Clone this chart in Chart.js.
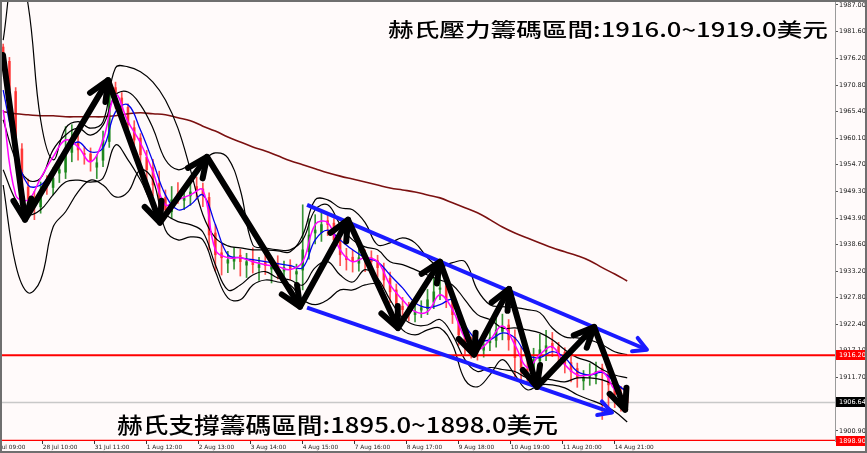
<!DOCTYPE html>
<html>
<head>
<meta charset="utf-8">
<script src="https://cdn.jsdelivr.net/npm/chart.js@4.4.1/dist/chart.umd.min.js"></script>
<style>
  html, body { margin: 0; padding: 0; background: #fff; overflow: hidden; }
</style>
</head>
<body>
<canvas id="chart" width="867" height="453"></canvas>
<script>
// x is measured in hourly bars from 27 Jul 09:00
const xMin = 5.43;
const xMax = 405.9;
const yMin = 1898.85;
const yMax = 1987.6;

const tickBars = [0, 25, 50, 75, 100, 125, 150, 175, 200, 225, 250, 275, 300];
const tickLabels = ["27 Jul 09:00", "28 Jul 10:00", "31 Jul 11:00", "1 Aug 12:00", "2 Aug 13:00",
  "3 Aug 14:00", "4 Aug 15:00", "7 Aug 16:00", "8 Aug 17:00", "9 Aug 18:00",
  "10 Aug 19:00", "11 Aug 20:00", "14 Aug 21:00"];
const priceTicks = [1987.00, 1981.60, 1976.20, 1970.80, 1965.40, 1960.10, 1954.70, 1949.30,
  1943.90, 1938.60, 1933.20, 1927.80, 1922.40, 1917.10, 1911.70, 1906.30, 1900.90];

const candleBars = [6, 9, 12, 15, 18, 21, 24, 27, 30, 33, 36, 39, 42, 45, 48, 51, 54, 57, 60, 63,
  66, 69, 72, 75, 78, 81, 84, 87, 90, 93, 96, 99, 102, 105, 108, 111, 114, 117, 120, 123,
  126, 129, 132, 135, 138, 141, 144, 147, 150, 153, 156, 159, 162, 165, 168, 171, 174, 177, 180, 183,
  186, 189, 192, 195, 198, 201, 204, 207, 210, 213, 216, 219, 222, 225, 228, 231, 234, 237, 240, 243,
  246, 249, 252, 255, 258, 261, 264, 267, 270, 273, 276, 279, 282, 285, 288, 291, 294, 297, 300, 303, 306];
const opens = [1978.5, 1975.6, 1969.5, 1957.9, 1950.2, 1947.9, 1946.2, 1950.8, 1950.1, 1953.0,
  1953.2, 1957.2, 1959.3, 1957.0, 1956.9, 1954.2, 1955.6, 1959.4, 1970.3, 1968.2,
  1966.3, 1962.2, 1960.1, 1956.2, 1954.1, 1950.9, 1948.1, 1945.2, 1948.9, 1947.5,
  1948.4, 1950.3, 1949.8, 1948.1, 1940.9, 1936.9, 1934.8, 1935.2, 1936.4, 1934.4,
  1935.6, 1933.9, 1935.1, 1933.6, 1934.8, 1933.2, 1934.4, 1932.6, 1933.4, 1937.1,
  1940.9, 1941.0, 1943.4, 1942.9, 1939.8, 1936.1, 1936.0, 1934.8, 1936.3, 1935.9,
  1935.3, 1933.6, 1931.7, 1929.4, 1926.1, 1926.0, 1924.4, 1925.3, 1925.6, 1926.9,
  1929.5, 1930.2, 1927.8, 1924.9, 1920.8, 1918.7, 1917.6, 1917.2, 1918.7, 1919.2,
  1921.0, 1922.3, 1919.8, 1916.2, 1913.4, 1913.2, 1915.0, 1917.0, 1918.6, 1917.9,
  1916.8, 1914.7, 1913.5, 1911.0, 1911.9, 1912.0, 1913.6, 1912.6, 1910.6, 1908.5, 1907.9];
const highs = [1979.1, 1976.4, 1970.3, 1959.0, 1951.8, 1949.3, 1951.2, 1952.5, 1954.1, 1956.3,
  1962.4, 1962.8, 1960.6, 1958.4, 1958.1, 1956.7, 1961.5, 1972.2, 1971.4, 1969.3,
  1967.0, 1963.6, 1961.0, 1957.6, 1955.8, 1953.4, 1949.6, 1950.3, 1951.1, 1950.4,
  1951.3, 1952.2, 1951.0, 1949.0, 1942.6, 1938.8, 1937.2, 1938.0, 1937.6, 1936.8,
  1937.9, 1936.0, 1936.9, 1935.4, 1936.3, 1935.2, 1935.5, 1934.6, 1946.6, 1943.8,
  1944.6, 1945.1, 1944.9, 1943.8, 1940.9, 1937.8, 1937.4, 1938.4, 1937.5, 1937.3,
  1936.4, 1934.8, 1933.0, 1930.6, 1927.9, 1926.9, 1926.6, 1927.2, 1929.5, 1931.8,
  1932.4, 1931.2, 1928.6, 1926.0, 1922.4, 1919.9, 1919.1, 1919.8, 1921.6, 1923.8,
  1924.5, 1923.4, 1921.3, 1917.9, 1915.2, 1917.6, 1920.4, 1921.2, 1920.8, 1918.8,
  1917.7, 1915.9, 1914.6, 1913.1, 1914.5, 1914.8, 1914.4, 1913.3, 1911.8, 1909.9, 1908.6];
const lows = [1973.8, 1966.9, 1955.1, 1948.2, 1945.3, 1943.6, 1944.9, 1948.7, 1948.6, 1951.1,
  1951.9, 1955.3, 1955.6, 1954.8, 1953.4, 1951.9, 1954.3, 1958.2, 1966.1, 1964.2,
  1960.5, 1957.8, 1954.9, 1951.2, 1948.4, 1946.0, 1944.1, 1943.8, 1946.9, 1945.6,
  1946.5, 1947.7, 1946.2, 1937.5, 1933.2, 1932.4, 1932.9, 1933.6, 1932.2, 1931.9,
  1932.8, 1931.3, 1932.5, 1930.8, 1931.6, 1931.7, 1931.4, 1929.9, 1929.4, 1935.6,
  1938.7, 1939.2, 1940.4, 1937.6, 1934.3, 1933.4, 1933.0, 1933.2, 1933.1, 1932.7,
  1931.9, 1929.7, 1926.8, 1924.5, 1923.6, 1923.1, 1922.9, 1923.8, 1924.4, 1925.6,
  1927.4, 1925.8, 1922.6, 1918.2, 1916.4, 1915.6, 1915.2, 1915.8, 1917.1, 1917.8,
  1919.3, 1917.2, 1911.8, 1911.2, 1910.6, 1911.4, 1913.6, 1915.1, 1915.9, 1914.2,
  1912.6, 1910.8, 1909.7, 1909.2, 1910.1, 1910.4, 1903.2, 1904.5, 1905.6, 1904.9, 1905.1];
const closes = [1975.9, 1969.8, 1957.7, 1950.6, 1947.6, 1946.6, 1949.6, 1950.6, 1952.0, 1953.7,
  1956.7, 1958.7, 1957.7, 1956.7, 1955.3, 1955.1, 1959.7, 1969.8, 1968.8, 1965.8,
  1962.8, 1959.7, 1956.7, 1953.7, 1950.6, 1947.6, 1945.6, 1947.6, 1948.6, 1948.0,
  1949.2, 1949.6, 1948.6, 1940.5, 1936.5, 1935.9, 1935.5, 1935.9, 1935.1, 1935.1,
  1934.5, 1934.5, 1934.3, 1934.3, 1933.9, 1933.9, 1933.5, 1933.1, 1937.5, 1940.5,
  1941.5, 1942.6, 1942.6, 1939.5, 1936.5, 1935.5, 1935.1, 1935.9, 1935.5, 1935.1,
  1933.9, 1931.4, 1929.0, 1926.4, 1925.4, 1925.0, 1925.0, 1925.8, 1927.4, 1929.0,
  1929.8, 1927.4, 1924.4, 1920.3, 1918.3, 1917.3, 1916.9, 1918.3, 1919.7, 1921.3,
  1921.8, 1919.3, 1915.7, 1913.7, 1912.9, 1915.3, 1917.3, 1918.1, 1917.7, 1916.3,
  1914.3, 1912.9, 1911.6, 1911.6, 1912.2, 1912.9, 1912.9, 1910.2, 1908.2, 1907.2, 1906.6];

// indicator lines, read every 6 bars
const indBars = [6, 12, 18, 24, 30, 36, 42, 48, 54, 60, 66, 72, 78, 84, 90, 96, 102, 108, 114, 120,
  126, 132, 138, 144, 150, 156, 162, 168, 174, 180, 186, 192, 198, 204, 210, 216, 222, 228, 234, 240,
  246, 252, 258, 264, 270, 276, 282, 288, 294, 300, 306];
const maFast = [1965.8, 1948.6, 1947.6, 1952.0, 1956.3, 1959.7, 1958.3, 1955.3, 1959.7, 1968.8,
  1963.4, 1959.1, 1953.3, 1946.6, 1947.6, 1948.6, 1949.6, 1937.5, 1935.9, 1935.9,
  1935.1, 1934.5, 1934.1, 1933.5, 1935.1, 1942.6, 1943.0, 1937.5, 1935.1, 1935.9,
  1935.1, 1930.4, 1927.4, 1925.0, 1925.0, 1928.4, 1925.4, 1919.7, 1917.3, 1919.3,
  1922.1, 1918.3, 1913.7, 1916.3, 1917.9, 1914.3, 1912.2, 1912.2, 1912.9, 1909.2, 1906.8];
const maSlow = [1969.8, 1957.7, 1950.6, 1950.6, 1953.7, 1957.3, 1959.3, 1957.3, 1958.1, 1965.4,
  1966.8, 1961.7, 1955.3, 1948.6, 1945.6, 1946.6, 1948.6, 1942.6, 1936.5, 1935.9,
  1935.5, 1935.1, 1934.7, 1934.3, 1933.9, 1939.5, 1941.5, 1939.5, 1937.5, 1935.9,
  1935.1, 1932.4, 1929.8, 1926.8, 1925.8, 1926.4, 1927.4, 1922.3, 1919.3, 1919.3,
  1920.7, 1919.7, 1916.3, 1915.7, 1916.9, 1915.7, 1912.9, 1912.2, 1912.7, 1910.8, 1908.6];
const maLong = [1965.4, 1965.0, 1964.8, 1964.6, 1964.6, 1964.4, 1964.4, 1964.4, 1964.4, 1964.6,
  1965.0, 1965.2, 1965.0, 1964.8, 1964.2, 1963.6, 1962.5, 1961.5, 1960.3, 1959.3,
  1958.3, 1957.5, 1956.5, 1955.5, 1954.7, 1953.9, 1953.1, 1952.4, 1951.8, 1951.2,
  1950.6, 1950.0, 1949.6, 1949.2, 1948.6, 1948.0, 1947.0, 1946.0, 1945.0, 1943.6,
  1942.1, 1940.9, 1939.9, 1938.9, 1937.9, 1937.1, 1936.3, 1935.3, 1933.9, 1932.6, 1931.2];
const bandUpperOuter = [1979.9, 1996.1, 1987.0, 1963.8, 1955.7, 1962.1, 1963.4, 1962.1, 1963.4, 1974.3,
  1974.5, 1973.5, 1971.4, 1967.8, 1962.1, 1953.7, 1944.6, 1939.9, 1938.3, 1937.9,
  1937.5, 1937.5, 1937.3, 1937.1, 1940.5, 1947.6, 1947.6, 1946.0, 1945.6, 1943.0,
  1938.5, 1938.9, 1939.9, 1938.9, 1935.9, 1934.1, 1934.9, 1935.1, 1929.4, 1926.4,
  1926.0, 1925.8, 1925.4, 1924.8, 1921.7, 1919.9, 1919.7, 1919.3, 1918.3, 1916.9, 1916.3];
const bandUpperInner = [1963.8, 1955.7, 1951.6, 1952.0, 1957.7, 1960.7, 1962.1, 1960.7, 1962.7, 1968.8,
  1969.4, 1966.8, 1962.1, 1955.7, 1953.7, 1954.7, 1955.7, 1957.1, 1956.1, 1949.6,
  1938.5, 1937.9, 1937.5, 1937.5, 1939.5, 1945.6, 1946.6, 1942.6, 1939.5, 1938.1,
  1937.5, 1935.1, 1934.5, 1933.5, 1932.4, 1931.4, 1930.4, 1927.4, 1924.4, 1923.4,
  1921.7, 1921.7, 1921.3, 1920.7, 1919.3, 1917.3, 1915.7, 1914.9, 1913.3, 1912.2, 1911.6];
const bandLowerInner = [1953.7, 1947.6, 1944.6, 1945.6, 1948.6, 1951.2, 1951.6, 1951.2, 1952.0, 1958.7,
  1955.7, 1951.6, 1946.6, 1944.6, 1943.2, 1942.6, 1941.1, 1934.5, 1929.4, 1930.4,
  1932.4, 1933.1, 1931.8, 1931.4, 1930.4, 1933.9, 1935.1, 1932.4, 1931.0, 1933.5,
  1931.8, 1927.4, 1923.8, 1922.3, 1922.3, 1923.4, 1920.3, 1915.3, 1912.9, 1913.7,
  1913.3, 1912.9, 1911.6, 1911.6, 1911.2, 1910.8, 1911.6, 1911.6, 1911.2, 1910.2, 1909.0];
const bandLowerOuter = [1950.6, 1934.5, 1928.8, 1931.4, 1942.1, 1945.2, 1949.2, 1951.6, 1950.6, 1948.2,
  1949.2, 1953.7, 1951.6, 1941.5, 1939.5, 1940.1, 1939.5, 1933.1, 1927.8, 1927.4,
  1930.4, 1931.4, 1931.0, 1930.4, 1927.4, 1926.4, 1927.4, 1929.4, 1929.4, 1930.4,
  1930.4, 1925.4, 1921.3, 1920.3, 1921.3, 1921.7, 1918.3, 1911.2, 1909.8, 1912.2,
  1915.3, 1912.2, 1909.2, 1910.2, 1910.2, 1909.6, 1908.2, 1907.2, 1906.2, 1904.8, 1902.7];

// hand-drawn annotations
const zigzagBars = [5.9, 16.5, 56.4, 81.4, 104.0, 148.7, 171.8, 195.8, 216.0, 232.4, 249.2, 262.6, 290.1, 305.0];
const zigzagPrices = [1976.9, 1943.6, 1971.8, 1943.0, 1956.3, 1926.0, 1943.6, 1921.7, 1935.1, 1916.3, 1929.6, 1909.8, 1921.9, 1905.2];
const channelTopBars = [152.1, 315.5];
const channelTopPrices = [1946.6, 1917.3];
const channelBottomBars = [152.1, 298.7];
const channelBottomPrices = [1925.8, 1904.6];

const resistanceLevel = 1916.20;
const supportLevel = 1898.90;
const lastPrice = 1906.64;

const topNote = "赫氏壓力籌碼區間:1916.0~1919.0美元";
const bottomNote = "赫氏支撐籌碼區間:1895.0~1898.0美元";

const toPoints = (xs, ys) => xs.map((x, i) => ({ x, y: ys[i] }));
const flatLine = (v) => [{ x: xMin, y: v }, { x: xMax, y: v }];
const candleColors = closes.map((c, i) => (c >= opens[i] ? "rgba(20,130,20,0.85)" : "rgba(255,40,40,0.8)"));

function lineSet(data, color, width, order, extra) {
  return Object.assign({
    type: "line", data, borderColor: color, borderWidth: width,
    pointRadius: 0, tension: 0.4, fill: false, order,
  }, extra || {});
}

function arrowHead(ctx, x0, y0, x1, y1, len, spread, width, color) {
  const a = Math.atan2(y1 - y0, x1 - x0);
  ctx.save();
  ctx.strokeStyle = color;
  ctx.lineWidth = width;
  ctx.lineCap = "round";
  ctx.lineJoin = "round";
  ctx.beginPath();
  ctx.moveTo(x1 - len * Math.cos(a - spread), y1 - len * Math.sin(a - spread));
  ctx.lineTo(x1, y1);
  ctx.lineTo(x1 - len * Math.cos(a + spread), y1 - len * Math.sin(a + spread));
  ctx.stroke();
  ctx.restore();
}

function stretchedText(ctx, text, x, baseline, size, targetWidth) {
  ctx.save();
  ctx.font = `500 ${size}px "Noto Sans CJK TC"`;
  const w = ctx.measureText(text).width;
  ctx.translate(x, baseline);
  ctx.scale(targetWidth / w, 1);
  ctx.fillStyle = "#000";
  ctx.textBaseline = "alphabetic";
  ctx.fillText(text, 0, 0);
  ctx.restore();
}

const backdrop = {
  id: "backdrop",
  beforeDraw(chart) {
    const { ctx, width, height } = chart;
    ctx.save();
    ctx.fillStyle = "#fffafa";
    ctx.fillRect(0, 0, width, height);
    ctx.restore();
  },
};

const annotations = {
  id: "annotations",
  afterDatasetsDraw(chart) {
    const ctx = chart.ctx;
    const zz = chart.getDatasetMeta(0).data;
    for (let i = 1; i < zz.length; i++) {
      arrowHead(ctx, zz[i - 1].x, zz[i - 1].y, zz[i].x, zz[i].y, 22, 0.42, 6, "#000");
    }
    [1, 2].forEach((idx) => {
      const pts = chart.getDatasetMeta(idx).data;
      const n = pts.length;
      arrowHead(ctx, pts[n - 2].x, pts[n - 2].y, pts[n - 1].x, pts[n - 1].y, 15, 0.5, 4, "#1a1aff");
    });
  },
  afterDraw(chart) {
    const { ctx, chartArea, width, height } = chart;
    const y = chart.scales.y;

    stretchedText(ctx, topNote, chartArea.left + 386, 37, 19.5, 440);
    stretchedText(ctx, bottomNote, chartArea.left + 115, 433, 22, 441);

    [[resistanceLevel, "#ff0000"], [lastPrice, "#000000"], [supportLevel, "#ff0000"]].forEach(([v, col]) => {
      const py = y.getPixelForValue(v);
      ctx.save();
      ctx.fillStyle = col;
      ctx.fillRect(chartArea.right + 1, Math.round(py) - 5, width - chartArea.right - 3, 10);
      ctx.fillStyle = "#fff";
      ctx.font = '6.5px "DejaVu Sans"';
      ctx.textBaseline = "middle";
      ctx.fillText(v.toFixed(2), chartArea.right + 4, Math.round(py) + 0.5);
      ctx.restore();
    });

    ctx.save();
    ctx.strokeStyle = "#6f6f6f";
    ctx.lineWidth = 2;
    ctx.strokeRect(1, 1, width - 2, height - 2);
    ctx.restore();
  },
};

new Chart(document.getElementById("chart"), {
  type: "bar",
  data: {
    datasets: [
      lineSet(toPoints(zigzagBars, zigzagPrices), "#000", 6, 0, { tension: 0, borderCapStyle: "round", borderJoinStyle: "round" }),
      lineSet(toPoints(channelTopBars, channelTopPrices), "#1a1aff", 4, 1, { tension: 0 }),
      lineSet(toPoints(channelBottomBars, channelBottomPrices), "#1a1aff", 4, 2, { tension: 0 }),
      lineSet(toPoints(indBars, maFast), "#ff00ff", 1.5, 3),
      lineSet(toPoints(indBars, maSlow), "#0000ee", 1.3, 4),
      lineSet(flatLine(resistanceLevel), "#ff0000", 2, 5, { tension: 0 }),
      lineSet(flatLine(supportLevel), "#ff0000", 2, 6, { tension: 0 }),
      lineSet(toPoints(indBars, bandUpperOuter), "#000", 1.2, 7),
      lineSet(toPoints(indBars, bandUpperInner), "#000", 1.2, 8),
      lineSet(toPoints(indBars, bandLowerInner), "#000", 1.2, 9),
      lineSet(toPoints(indBars, bandLowerOuter), "#000", 1.2, 10),
      lineSet(toPoints(indBars, maLong), "#7b1010", 1.6, 11),
      {
        type: "bar", order: 12, grouped: false, barThickness: 2, minBarLength: 1,
        data: candleBars.map((x, i) => ({ x, y: [opens[i], closes[i]] })),
        backgroundColor: candleColors, borderWidth: 0,
      },
      {
        type: "bar", order: 13, grouped: false, barThickness: 1,
        data: candleBars.map((x, i) => ({ x, y: [lows[i], highs[i]] })),
        backgroundColor: candleColors, borderWidth: 0,
      },
      lineSet(flatLine(lastPrice), "#c8c8c8", 1.5, 14, { tension: 0 }),
    ],
  },
  options: {
    responsive: false,
    animation: false,
    layout: { padding: { left: 2, top: 2, right: 2, bottom: 2 } },
    plugins: { legend: { display: false }, tooltip: { enabled: false } },
    scales: {
      x: {
        type: "linear", min: xMin, max: xMax, offset: false,
        afterBuildTicks: (s) => { s.ticks = tickBars.map((v) => ({ value: v })); },
        afterFit: (s) => { s.height = 10; s.paddingLeft = 0; s.paddingRight = 0; },
        grid: { drawOnChartArea: false, drawTicks: true, tickLength: 3, color: "#333", offset: false },
        border: { display: false },
        ticks: {
          autoSkip: false, maxRotation: 0, minRotation: 0, align: "start", padding: 0,
          color: "#222", font: { size: 5.8, family: "DejaVu Sans" },
          callback: (v, i) => tickLabels[i],
        },
      },
      y: {
        position: "right", min: yMin, max: yMax,
        afterBuildTicks: (s) => { s.ticks = priceTicks.map((v) => ({ value: v })); },
        afterFit: (s) => { s.width = 30; s.paddingTop = 0; s.paddingBottom = 0; },
        grid: { drawOnChartArea: false, tickLength: 3, color: "#555" },
        border: { color: "#9a9a9a", width: 1 },
        ticks: {
          padding: 1, color: "#222", font: { size: 6.5, family: "DejaVu Sans" },
          callback: (v) => Number(v).toFixed(2),
        },
      },
    },
  },
  plugins: [backdrop, annotations],
});
</script>
</body>
</html>
